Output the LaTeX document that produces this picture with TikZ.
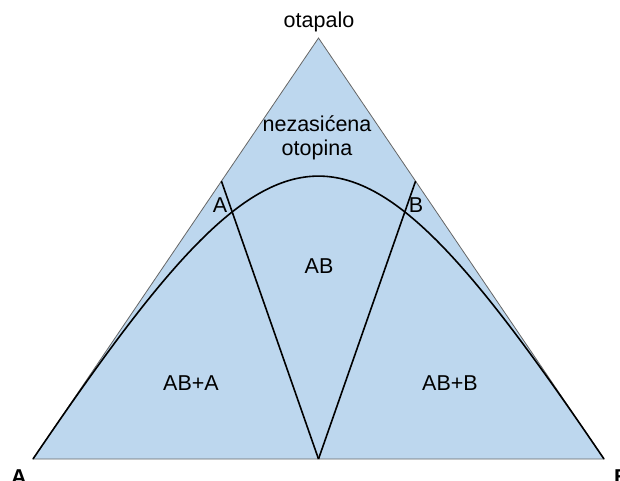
\documentclass[tikz,border=0pt]{standalone}
\usepackage{fontspec}
\setmainfont{Liberation Sans}
\usetikzlibrary{calc}
\definecolor{phasefill}{RGB}{189,215,238}
\definecolor{edgegray}{RGB}{102,102,102}

\begin{document}
\begin{tikzpicture}[
	x=1pt, y=-1pt,
	field/.style={
		font=\fontsize{21.5}{24}\selectfont,
		align=center,
		inner sep=0pt,
	},
	corner/.style={
		font=\fontsize{21.5}{24}\selectfont\bfseries,
		inner sep=0pt,
		anchor=base,
	},
	Boundary/.style={% phase boundaries
		black,
		line width=1.6pt,
	},
]
	\useasboundingbox (0,0) rectangle (620,481);

	\coordinate (A) at (33,459);
	\coordinate (B) at (604,459);
	\coordinate (top) at (318.5,38);
	\coordinate (mid) at ($(A)!0.5!(B)$);
	\coordinate (sa) at ($(A)!0.66!(top)$);
	\coordinate (sb) at ($(B)!0.66!(top)$);
	\coordinate (ca) at ($(A)!0.896!(top)$);
	\coordinate (cb) at ($(B)!0.896!(top)$);

	\filldraw [fill=phasefill, draw=edgegray, line width=0.8pt] (A) -- (top) -- (B) -- cycle;

	\draw [Boundary] (A) .. controls (ca) and (cb) .. (B);
	\draw [Boundary] (mid) -- (sa);
	\draw [Boundary] (mid) -- (sb);

	\node [field] (solv) at (319,22) {otapalo};
	\node [field] (unsat) at (317,138) {nezasićena\\otopina};
	\node [field] (la) at (220,205) {A};
	\node [field] (lb) at (416,205) {B};
	\node [field] (lab) at (319,266) {AB};
	\node [field] (laba) at (191,383) {AB+A};
	\node [field] (labb) at (450,383) {AB+B};
	\node [corner] (ka) at (19,484) {A};
	\node [corner] (kb) at (622,484) {B};
\end{tikzpicture}
\end{document}
